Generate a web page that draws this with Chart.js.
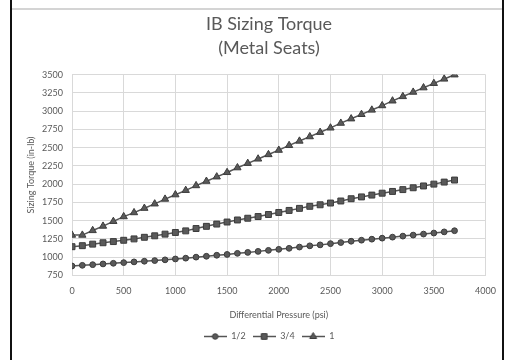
<!DOCTYPE html>
<html>
<head>
<meta charset="utf-8">
<script src="https://cdn.jsdelivr.net/npm/chart.js@4/dist/chart.umd.min.js"></script>
<style>
  html, body { margin: 0; padding: 0; background: #ffffff; }
  body { width: 506px; height: 360px; position: relative; overflow: hidden; }
  #c { position: absolute; left: 0; top: 0; }
  .frameL { position: absolute; left: 10px; top: 0; width: 2px; height: 360px; background: #111; }
  .frameR { position: absolute; left: 502px; top: 0; width: 2px; height: 360px; background: #111; }
  .frameT { position: absolute; left: 12px; top: 8px; width: 490px; height: 2px; background: #d4d4d4; }
</style>
</head>
<body>
<canvas id="c" width="506" height="360"></canvas>
<div class="frameL"></div>
<div class="frameR"></div>
<div class="frameT"></div>
<script>
// ---- data ----
const titleLines = ["IB Sizing Torque", "(Metal Seats)"];
const xAxisTitle = "Differential Pressure (psi)";
const yAxisTitle = "Sizing Torque (in-lb)";
const seriesNames = ["1/2", "3/4", "1"];

const pressure = [0, 100, 200, 300, 400, 500, 600, 700, 800, 900,
  1000, 1100, 1200, 1300, 1400, 1500, 1600, 1700, 1800, 1900,
  2000, 2100, 2200, 2300, 2400, 2500, 2600, 2700, 2800, 2900,
  3000, 3100, 3200, 3300, 3400, 3500, 3600, 3700];

const torqueHalf = [879, 888, 897, 907, 916, 925, 935, 944, 953, 963,
  975, 986, 1000, 1012, 1026, 1037, 1052, 1065, 1079, 1093,
  1107, 1121, 1138, 1155, 1168, 1185, 1200, 1218, 1232, 1246,
  1260, 1274, 1288, 1302, 1316, 1330, 1346, 1362];

const torqueThreeQuarter = [1143, 1157, 1178, 1197, 1213, 1231, 1250, 1272, 1292, 1315,
  1338, 1360, 1392, 1422, 1453, 1481, 1509, 1533, 1556, 1584,
  1612, 1640, 1668, 1696, 1717, 1741, 1769, 1800, 1825, 1850,
  1876, 1900, 1925, 1950, 1975, 2000, 2028, 2056];

const torqueOne = [1302, 1302, 1365, 1425, 1490, 1555, 1610, 1670, 1730, 1795,
  1855, 1915, 1980, 2040, 2100, 2160, 2225, 2285, 2345, 2405,
  2465, 2530, 2590, 2650, 2710, 2770, 2835, 2895, 2955, 3015,
  3075, 3140, 3200, 3260, 3320, 3380, 3440, 3497];

const yTickValues = [750, 1000, 1250, 1500, 1750, 2000, 2250, 2500, 2750, 3000, 3250, 3500];
const xTickValues = [0, 500, 1000, 1500, 2000, 2500, 3000, 3500, 4000];

// ---- styling ----
const FONT = "Lato, 'Open Sans', 'DejaVu Sans', sans-serif";
const TEXT = "#595959";
const GRID = "#d9d9d9";
const LINE = "#555555";
const MFILL = "#5a5a5a";
const MBORDER = "#3c3c3c";

const styles = [
  { pointStyle: "circle", radius: 2.9 },
  { pointStyle: "rect", radius: 4.2 },
  { pointStyle: "triangle", radius: 4.2 }
];

function legendIcon(style) {
  const cv = document.createElement("canvas");
  cv.width = 23; cv.height = 9;
  const g = cv.getContext("2d");
  g.strokeStyle = LINE; g.lineWidth = 1.5;
  g.beginPath(); g.moveTo(0, 4.5); g.lineTo(23, 4.5); g.stroke();
  g.fillStyle = MFILL; g.strokeStyle = MBORDER; g.lineWidth = 1;
  const cx = 11.5, cy = 4.5;
  g.beginPath();
  if (style.pointStyle === "circle") {
    g.arc(cx, cy, 2.8, 0, Math.PI * 2);
  } else if (style.pointStyle === "rect") {
    const s = 4 * Math.SQRT1_2;
    g.rect(cx - s, cy - s, 2 * s, 2 * s);
  } else {
    const r = 4;
    g.moveTo(cx, cy - r);
    g.lineTo(cx + r * Math.sin(Math.PI * 2 / 3), cy - r * Math.cos(Math.PI * 2 / 3));
    g.lineTo(cx + r * Math.sin(Math.PI * 4 / 3), cy - r * Math.cos(Math.PI * 4 / 3));
    g.closePath();
  }
  g.fill(); g.stroke();
  return cv;
}

const seriesValues = [torqueHalf, torqueThreeQuarter, torqueOne];
const datasets = seriesNames.map((name, k) => ({
  label: name,
  data: pressure.map((p, i) => ({ x: p, y: seriesValues[k][i] })),
  borderColor: LINE,
  borderWidth: 1.5,
  backgroundColor: MFILL,
  pointBackgroundColor: MFILL,
  pointBorderColor: MBORDER,
  pointBorderWidth: 1,
  pointStyle: styles[k].pointStyle,
  pointRadius: styles[k].radius,
  pointHoverRadius: styles[k].radius,
  tension: 0,
  fill: false
}));

const icons = styles.map(legendIcon);

new Chart(document.getElementById("c"), {
  type: "line",
  data: { datasets },
  options: {
    responsive: false,
    animation: false,
    devicePixelRatio: 1,
    layout: { padding: { left: 32, right: 0, top: 0, bottom: 9 } },
    plugins: {
      tooltip: { enabled: false },
      title: {
        display: true,
        text: titleLines,
        color: TEXT,
        font: { family: FONT, size: 18, weight: "normal", lineHeight: 1.35 },
        padding: { top: 12, bottom: 14 }
      },
      legend: {
        display: true,
        position: "bottom",
        labels: {
          usePointStyle: true,
          pointStyleWidth: 23,
          padding: 7,
          color: TEXT,
          font: { family: FONT, size: 9 },
          generateLabels(chart) {
            const items = Chart.defaults.plugins.legend.labels.generateLabels(chart);
            return items.map((it, i) => Object.assign(it, { pointStyle: icons[i] }));
          }
        }
      }
    },
    scales: {
      x: {
        type: "linear",
        min: xTickValues[0],
        max: xTickValues[xTickValues.length - 1],
        afterBuildTicks(scale) { scale.ticks = xTickValues.map(v => ({ value: v })); },
        ticks: {
          color: TEXT,
          font: { family: FONT, size: 9 },
          padding: 10,
          maxRotation: 0,
          callback: v => String(v)
        },
        grid: { color: GRID, drawTicks: false },
        border: { color: GRID },
        title: {
          display: true,
          text: xAxisTitle,
          color: TEXT,
          font: { family: FONT, size: 9 },
          padding: { top: 3, bottom: 5 }
        }
      },
      y: {
        type: "linear",
        position: "left",
        min: yTickValues[0],
        max: yTickValues[yTickValues.length - 1],
        afterBuildTicks(scale) { scale.ticks = yTickValues.map(v => ({ value: v })); },
        afterFit(scale) { scale.width = 40; },
        ticks: {
          color: TEXT,
          font: { family: FONT, size: 9 },
          padding: 9,
          callback: v => String(v)
        },
        grid: { color: GRID, drawTicks: false },
        border: { color: GRID },
        title: {
          display: true,
          text: yAxisTitle,
          color: TEXT,
          font: { family: FONT, size: 9 },
          padding: { top: -6.4, bottom: 0 }
        }
      },
      spacer: {
        type: "linear",
        position: "right",
        min: 0,
        max: 1,
        display: true,
        afterFit(scale) { scale.width = 20; },
        ticks: { display: false },
        grid: { display: false, drawTicks: false },
        border: { display: false },
        title: { display: false }
      }
    }
  }
});
</script>
</body>
</html>
